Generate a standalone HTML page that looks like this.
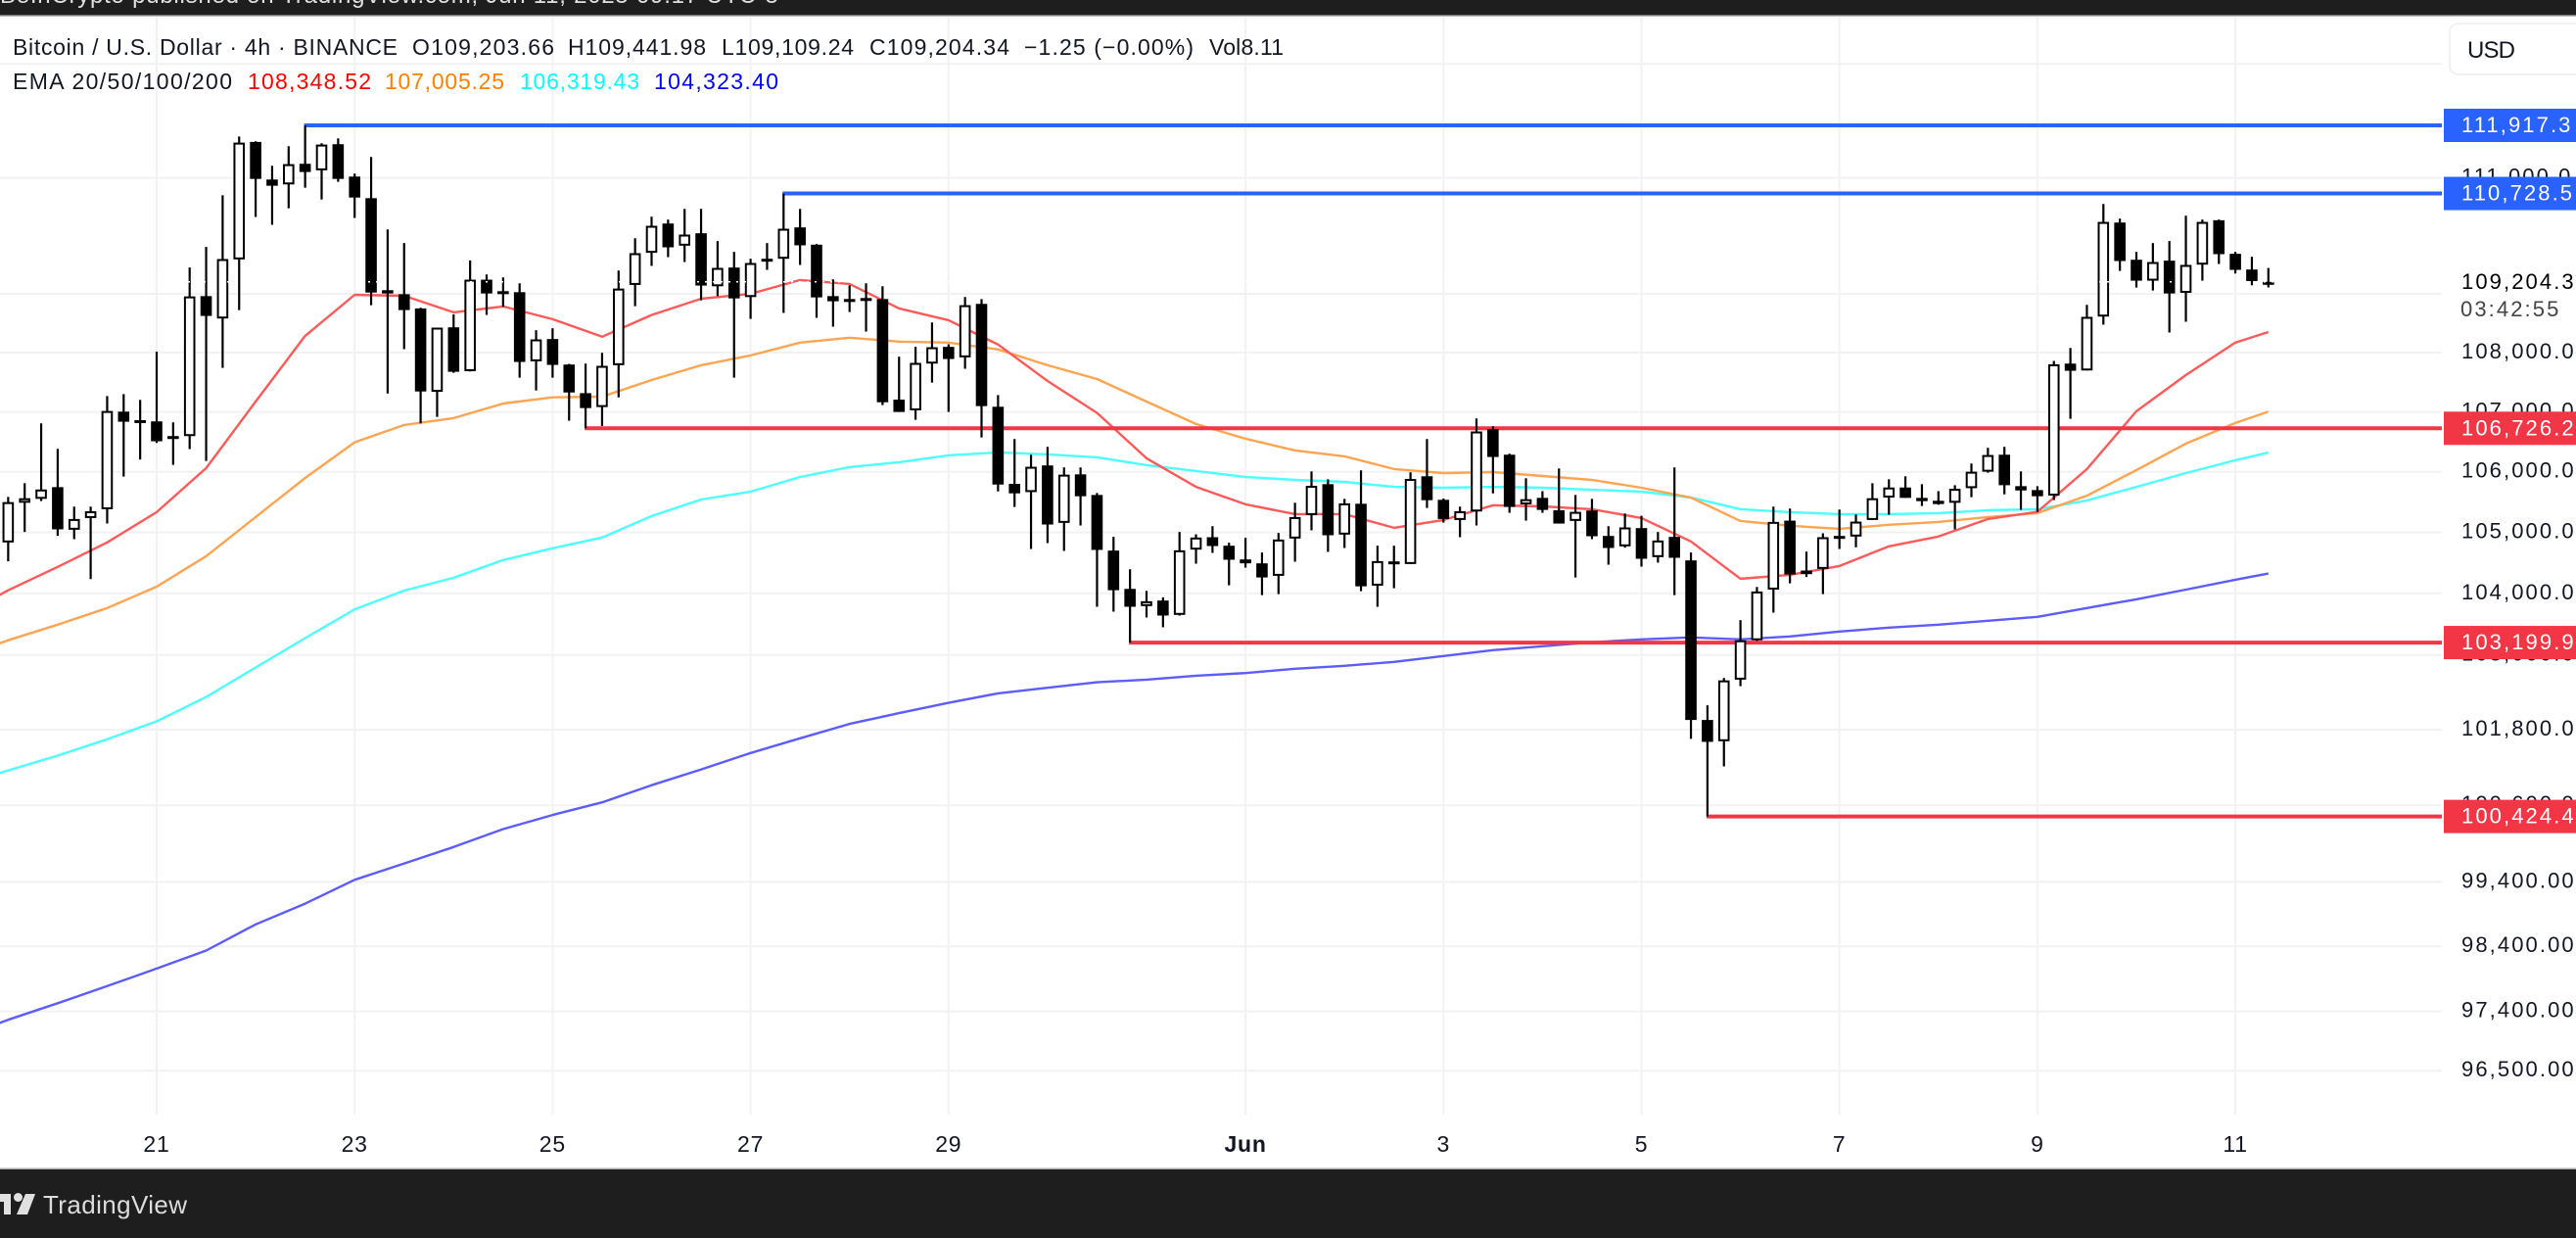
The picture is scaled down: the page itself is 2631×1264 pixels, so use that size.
<!DOCTYPE html>
<html lang="en">
<head>
<meta charset="utf-8">
<title>Bitcoin / U.S. Dollar 4h chart</title>
<style>
html,body{margin:0;padding:0;background:#fff;width:2631px;height:1264px;overflow:hidden}
svg{display:block;font-family:"Liberation Sans",sans-serif}
</style>
</head>
<body>
<svg id="chart" xmlns="http://www.w3.org/2000/svg" width="2631" height="1264" viewBox="0 0 2631 1264">
  <rect x="0" y="0" width="2631" height="1264" fill="#ffffff"/>
  <g id="grid"></g>
  <g id="emas" fill="none" stroke-linejoin="round"></g>
  <g id="levels"></g>
  <g id="candles"></g>
  <g id="priceline"></g>
  <g id="yaxis" font-size="22" letter-spacing="2.1" fill="#131722"></g>
  <g id="xaxis" font-size="23" letter-spacing="0.8" fill="#131722" text-anchor="middle"></g>
  <g id="levellabels" font-size="22" letter-spacing="2.1" fill="#ffffff"></g>

  <g font-size="23" fill="#131722">
    <text x="13" y="56" textLength="393" lengthAdjust="spacing">Bitcoin / U.S. Dollar · 4h · BINANCE</text>
    <text x="421" y="56" textLength="145" lengthAdjust="spacing">O109,203.66</text>
    <text x="580" y="56" textLength="141" lengthAdjust="spacing">H109,441.98</text>
    <text x="737" y="56" textLength="135" lengthAdjust="spacing">L109,109.24</text>
    <text x="888" y="56" textLength="143" lengthAdjust="spacing">C109,204.34</text>
    <text x="1046" y="56" textLength="173" lengthAdjust="spacing">−1.25 (−0.00%)</text>
    <text x="1235" y="56" textLength="76" lengthAdjust="spacing">Vol8.11</text>
    <text x="13" y="91" textLength="224" lengthAdjust="spacing">EMA 20/50/100/200</text>
    <text x="253" y="91" fill="#ff0000" textLength="126" lengthAdjust="spacing">108,348.52</text>
    <text x="393" y="91" fill="#ff7f00" textLength="122" lengthAdjust="spacing">107,005.25</text>
    <text x="531" y="91" fill="#00ffff" textLength="122" lengthAdjust="spacing">106,319.43</text>
    <text x="668" y="91" fill="#0000ff" textLength="127" lengthAdjust="spacing">104,323.40</text>
  </g>

  <g>
    <rect x="2502" y="24" width="150" height="52" rx="9" fill="#ffffff" stroke="#f0f2f5" stroke-width="2"/>
    <text x="2520" y="59" font-size="24" fill="#131722" textLength="49" lengthAdjust="spacing">USD</text>
  </g>

  <g>
    <rect x="0" y="0" width="2631" height="16" fill="#1e1e1e"/>
    <rect x="0" y="15" width="2631" height="1.5" fill="#777777"/>
    <text x="0" y="3" font-size="24" fill="#e0e0e0" textLength="795" lengthAdjust="spacing">BeInCrypto published on TradingView.com, Jun 11, 2025 09:17 UTC-5</text>
  </g>

  <g>
    <rect x="0" y="1193" width="2631" height="71" fill="#1e1e1e"/>
    <rect x="0" y="1192.5" width="2631" height="1.5" fill="#aaaaaa"/>
    <g fill="#e0e0e0">
      <path d="M0 1219H11V1240H4V1227H0Z"/>
      <circle cx="18.5" cy="1222.5" r="4.5"/>
      <path d="M26 1219H36L28 1240H17Z"/>
    </g>
    <text x="44" y="1239" font-size="26" fill="#dcdcdc" textLength="147" lengthAdjust="spacing">TradingView</text>
  </g>
</svg>

<script>
// ---- Candle data (BTC/USD 4h) ----
const opens = [104833,105487,105552,105746,105042,105235,105380,107005,106863,106842,106596,106596,108961,108579,109590,111627,110971,110886,111245,111131,111587,111022,110647,109062,108994,108751,107338,108429,107687,109242,109045,109028,107853,108230,107798,107316,107082,107787,109152,109703,110208,109826,110040,109129,109450,108945,109601,109601,110141,109843,108961,108911,108928,108911,107207,107027,107814,108097,107920,108828,107087,105800,105664,106106,105155,105958,105616,104699,104072,103792,103882,103649,104715,104919,104779,104554,104490,104286,104897,105284,105795,104962,105471,104125,104522,104479,105926,105536,105203,105343,106711,106285,105461,105568,105364,105187,105359,104940,104769,105069,104592,104924,104538,101955,101616,102602,103237,104061,105192,104313,104399,104940,104930,105203,105573,105740,105568,105520,105487,105729,106002,106285,105762,105697,105605,107814,107698,108612,110225,109584,109225,109568,109017,109500,110265,109686,109416,109203.66];
const highs = [105584,105811,106809,106384,105423,105423,107267,107300,107202,108014,106825,109450,109804,110697,111723,111638,111210,111552,111917,111604,111689,111074,111364,110107,109871,108762,108424,108651,109573,109332,109281,109180,108380,108413,107809,107814,107997,109399,109955,110326,110276,110461,110461,109905,109719,109601,109871,110728,110461,109854,109247,109146,109180,109129,107931,108097,108512,108141,108945,108911,107283,106547,106285,106416,106073,106073,105648,104924,104393,104040,103934,105005,104967,105101,104828,104908,104667,104989,105487,106007,105876,105552,106024,104779,104779,105991,106547,105557,105423,106891,106760,106302,105893,105680,106056,105616,105552,105101,105310,105273,105005,106073,104667,102189,102629,103564,104104,105423,105391,104683,104983,105375,105294,105811,105876,105926,105795,105680,105778,106138,106400,106416,106007,105762,107859,108080,108812,110546,110293,109719,109871,109905,110343,110276,110276,109719,109635,109441.98];
const lows = [104522,105005,105514,104940,104887,104232,105144,105920,106204,106482,106116,106378,106182,107742,108723,110321,110186,110472,110829,110624,110931,110304,108806,107311,108058,106809,106918,107659,107681,108640,108778,107576,107360,107576,106853,106726,106763,107245,108789,109478,109629,109545,108889,108961,107576,108573,109410,108673,109495,108590,108440,108690,108357,107114,107000,106869,107493,107000,107726,106574,105675,105418,104726,104822,104694,105112,103781,103702,103200,103607,103448,103638,104484,104661,104131,104420,103971,103987,104517,105032,104678,104742,104035,103781,104083,104479,105402,105160,104919,105112,105643,105321,105192,105321,105144,104259,104887,104468,104747,104436,104501,103971,101653,100424,101215,102497,103226,103686,104163,104265,103987,104726,104753,105203,105289,105568,105434,105455,105048,105579,105986,105627,105369,105337,105530,106885,107698,108474,109393,109107,109056,108341,108524,109225,109511,109348,109146,109109.24];
const closes = [105498,105562,105707,105048,105219,105348,107016,106836,106842,106509,106574,108956,108623,109596,111615,110982,110863,111239,111102,111581,110982,110658,109022,109006,108723,107344,108424,107676,109242,109006,109022,107842,108224,107792,107327,107065,107776,109090,109697,110169,109798,110017,109141,109444,108922,109528,109579,110118,109832,108939,108873,108895,108911,107163,107000,107826,108091,107892,108806,107098,105789,105643,106084,105128,105953,105595,104710,104051,103781,103871,103638,104704,104914,104774,104549,104490,104259,104881,105251,105767,104951,105477,104114,104527,104490,105882,105530,105219,105348,106673,106247,105418,105546,105369,105144,105337,104935,104742,105080,104565,104865,104581,101955,101606,102590,103237,104030,105171,104308,104372,104919,104924,105176,105562,105740,105568,105514,105466,105718,106002,106280,105778,105691,105595,107803,107693,108607,110236,109562,109225,109545,109006,109495,110236,109680,109410,109219,109204.34];

// ---- EMA data: candle positions of each reading, then one array per EMA ----
const emaCandles = [-1,0,3,6,9,12,15,18,21,24,27,30,33,36,39,42,45,48,51,54,57,60,63,66,69,72,75,78,81,84,87,90,93,96,99,102,105,108,111,114,117,120,123,126,129,132,135,137];
const ema20 = [103903,104050,104431,104833,105332,106062,107174,108285,108983,108966,108684,108784,108568,108269,108639,108917,109000,109236,109169,108751,108551,108136,107521,106983,106226,105751,105461,105300,105300,105074,105203,105445,105428,105380,105235,104849,104238,104302,104447,104769,104930,105219,105337,106046,107011,107621,108169,108348.52];
const ema50 = [103141,103237,103490,103760,104109,104608,105251,105898,106492,106782,106896,107142,107245,107256,107537,107787,107953,108169,108252,108186,108169,108053,107787,107554,107174,106798,106553,106356,106258,106046,105980,105996,105931,105866,105735,105573,105187,105107,105058,105123,105171,105251,105316,105605,106029,106471,106814,107005.25];
const ema100 = [101069,101152,101386,101647,101933,102324,102797,103273,103739,104045,104254,104544,104737,104914,105268,105541,105670,105915,106078,106160,106275,106324,106291,106242,106111,106013,105915,105866,105833,105751,105735,105751,105735,105702,105670,105573,105380,105332,105300,105300,105316,105364,105380,105525,105751,105980,106193,106319.43];
const ema200 = [97179,97274,97527,97789,98058,98335,98739,99062,99432,99687,99944,100226,100447,100647,100918,101168,101429,101663,101893,102065,102230,102382,102471,102559,102602,102666,102708,102777,102824,102888,102983,103078,103141,103205,103252,103284,103252,103300,103379,103443,103490,103554,103617,103760,103903,104061,104222,104323.40];

// ---- Axis data ----
const gridPrices = [113000,111000,109000,108000,107000,106000,105000,104000,103000,101800,100600,99400,98400,97400,96500];
const tickPrices = [111000,108000,107000,106000,105000,104000,103000,101800,100600,99400,98400,97400,96500];
const tickLabels = ["111,000.0","108,000.0","107,000.0","106,000.0","105,000.0","104,000.0","103,000.0","101,800.0","100,600.0","99,400.00","98,400.00","97,400.00","96,500.00"];
const dayCandles = [9,21,33,45,57,75,87,99,111,123,135];
const dayLabels = ["21","23","25","27","29","Jun","3","5","7","9","11"];

// ---- Horizontal levels ----
const levelPrices = [111917.3,110728.5,106726.2,103199.9,100424.4];
const levelStarts = [18,47,35,68,103];
const levelKinds = ["resistance","resistance","support","support","support"];
const levelLabels = ["111,917.3","110,728.5","106,726.2","103,199.9","100,424.4"];

const lastPrice = 109204.34;
const lastPriceLabel = "109,204.3";
const countdownLabel = "03:42:55";

// ---- Axis functions ----
const xOf = i => 8.35 + i * 16.85;
const yOf = p => 128 + 6512 * Math.log(111917.3 / p);

const NS = "http://www.w3.org/2000/svg";
function mk(tag, attrs, parent) {
  const el = document.createElementNS(NS, tag);
  for (const k in attrs) el.setAttribute(k, attrs[k]);
  parent.appendChild(el);
  return el;
}
const PLOT_RIGHT = 2494;

// grid
const grid = document.getElementById("grid");
gridPrices.forEach(p => {
  const el = mk("line", {x1:0, x2:PLOT_RIGHT, y1:yOf(p), y2:yOf(p), stroke:"#f2f2f3", "stroke-width":2}, grid);
  
  
});
dayCandles.forEach(i => {
  const el = mk("line", {x1:xOf(i), x2:xOf(i), y1:17, y2:1138, stroke:"#f2f2f3", "stroke-width":2}, grid);
  
  
});

// EMA lines
const emaGroup = document.getElementById("emas");
function drawEma(values, color, name) {
  const pts = values.map((v, k) => xOf(emaCandles[k]).toFixed(1) + "," + yOf(v).toFixed(1)).join(" ");
  const el = mk("polyline", {points:pts, stroke:color, "stroke-width":2.4}, emaGroup);
  
  
}
drawEma(ema200, "#5c5cff", "ema-200-line");
drawEma(ema100, "#4dffff", "ema-100-line");
drawEma(ema50, "#ffa552", "ema-50-line");
drawEma(ema20, "#ff5a5a", "ema-20-line");

// level lines
const levelGroup = document.getElementById("levels");
const levelColor = k => k === "resistance" ? "#2962ff" : "#f23645";
levelPrices.forEach((p, k) => {
  const el = mk("line", {x1:xOf(levelStarts[k]) - 1, x2:PLOT_RIGHT, y1:yOf(p), y2:yOf(p), stroke:levelColor(levelKinds[k]), "stroke-width":4}, levelGroup);
  
  
});

// candles
const candleGroup = document.getElementById("candles");
opens.forEach((o, i) => {
  const c = closes[i], x = xOf(i);
  const up = c >= o && Math.abs(c - o) > 15;
  const yt = yOf(Math.max(o, c));
  const yb = Math.max(yOf(Math.min(o, c)), yt + 3);
  const wick = mk("line", {x1:x, x2:x, y1:yOf(highs[i]), y2:yOf(lows[i]), stroke:"#000000", "stroke-width":2.2}, candleGroup);
  
  
  let body;
  if (up) {
    body = mk("rect", {x:x - 4.8, y:yt + 1, width:9.6, height:Math.max(yb - yt - 2, 1), fill:"#ffffff", stroke:"#000000", "stroke-width":2}, candleGroup);
  } else {
    body = mk("rect", {x:x - 5.8, y:yt, width:11.6, height:yb - yt, fill:"#000000"}, candleGroup);
  }
  
  
});

// dotted last-price line
const priceLineGroup = document.getElementById("priceline");
const plEl = mk("line", {x1:0, x2:xOf(opens.length - 1) + 6, y1:yOf(lastPrice), y2:yOf(lastPrice), stroke:"#ffffff", "stroke-width":1.5, "stroke-dasharray":"2 6"}, priceLineGroup);



// price axis labels
const yAxis = document.getElementById("yaxis");
tickPrices.forEach((p, k) => {
  const el = mk("text", {x:2514, y:yOf(p) + 6}, yAxis);
  el.textContent = tickLabels[k];
  
  
});
const lastEl = mk("text", {x:2514, y:yOf(lastPrice) + 7, fill:"#000000"}, yAxis);
lastEl.textContent = lastPriceLabel;


const cdEl = mk("text", {x:2513, y:yOf(lastPrice) + 35, fill:"#444444"}, yAxis);
cdEl.textContent = countdownLabel;



// time axis labels
const xAxis = document.getElementById("xaxis");
dayCandles.forEach((i, k) => {
  const el = mk("text", {x:xOf(i), y:1176}, xAxis);
  el.textContent = dayLabels[k];
  if (dayLabels[k] === "Jun") el.setAttribute("font-weight", "bold");
  
  
});

// level price tags
const tagGroup = document.getElementById("levellabels");
levelPrices.forEach((p, k) => {
  const y = yOf(p);
  const box = mk("rect", {x:2496, y:y - 17, width:135, height:34, fill:levelColor(levelKinds[k])}, tagGroup);
  
  
  const t = mk("text", {x:2514, y:y + 7}, tagGroup);
  t.textContent = levelLabels[k];
  
  
});
</script>
</body>
</html>
